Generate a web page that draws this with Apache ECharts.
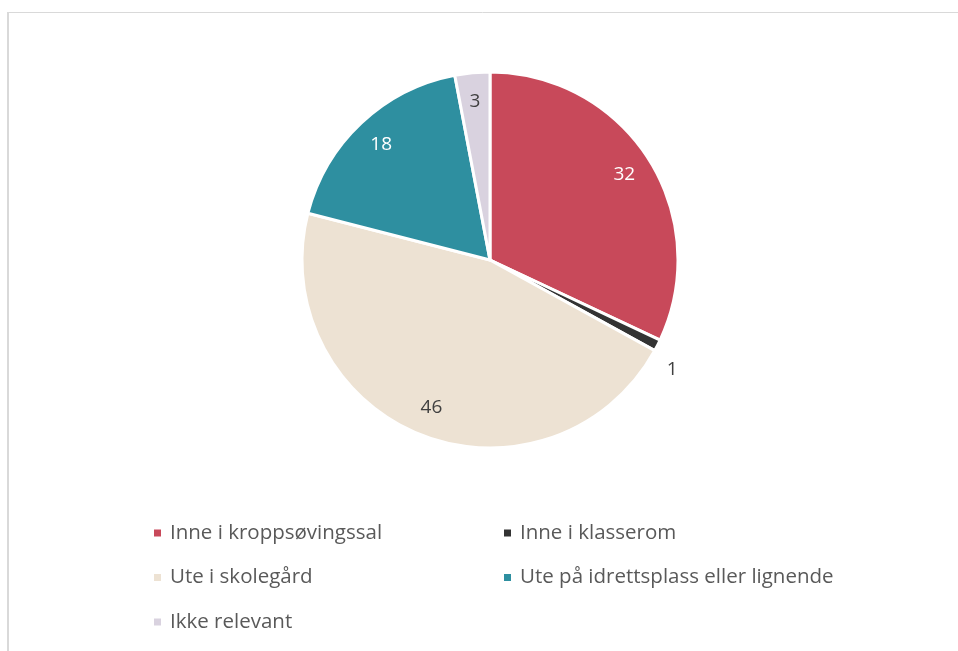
<!DOCTYPE html>
<html>
<head>
<meta charset="utf-8">
<script src="https://cdn.jsdelivr.net/npm/echarts@6/dist/echarts.min.js"></script>
<style>
  html, body { margin: 0; padding: 0; background: #fff; }
  #main { width: 958px; height: 651px; }
</style>
</head>
<body>
<div id="main"></div>
<script>
// data
var categories = ['Inne i kroppsøvingssal', 'Inne i klasserom', 'Ute i skolegård', 'Ute på idrettsplass eller lignende', 'Ikke relevant'];
var values = [32, 1, 46, 18, 3];
var colors = ['#C8495A', '#333333', '#EDE2D3', '#2E8FA0', '#D9D2DF'];
var labelColors = ['#ffffff', '#404040', '#404040', '#ffffff', '#404040'];

var myChart = echarts.init(document.getElementById('main'));

var pieData = categories.map(function (name, i) {
    return { name: name, value: values[i], itemStyle: { color: colors[i] } };
});

// transparent ring only used to place the value labels
var labelData = categories.map(function (name, i) {
    var item = {
        name: name,
        value: values[i],
        itemStyle: { color: 'rgba(0,0,0,0)', borderWidth: 0 },
        label: { color: labelColors[i] }
    };
    if (values[i] < 2) {
        item.label.position = 'outside';
    }
    return item;
});

var legendText = { fontFamily: 'Open Sans', fontSize: 20.5, color: '#595959', lineHeight: 22, padding: [0, 0, 0, 3] };

var option = {
    animation: false,
    graphic: [
        { type: 'line', shape: { x1: 7, y1: 12.5, x2: 958, y2: 12.5 }, style: { stroke: '#d9d9d9', lineWidth: 1 } },
        { type: 'line', shape: { x1: 8, y1: 12, x2: 8, y2: 651 }, style: { stroke: '#d9d9d9', lineWidth: 2 } }
    ],
    legend: [
        {
            data: [categories[0], categories[2], categories[4]],
            orient: 'vertical',
            left: 152,
            top: 522,
            padding: 0,
            itemWidth: 9,
            itemHeight: 9,
            itemGap: 22.5,
            icon: 'rect',
            textStyle: legendText
        },
        {
            data: [categories[1], categories[3]],
            orient: 'vertical',
            left: 502,
            top: 522,
            padding: 0,
            itemWidth: 9,
            itemHeight: 9,
            itemGap: 22.5,
            icon: 'rect',
            textStyle: legendText
        }
    ],
    series: [
        {
            name: 'main',
            type: 'pie',
            center: [490, 260],
            radius: [0, 188],
            startAngle: 90,
            clockwise: true,
            data: pieData,
            itemStyle: { borderColor: '#ffffff', borderWidth: 3 },
            label: { show: false },
            labelLine: { show: false },
            emphasis: { disabled: true }
        },
        {
            name: 'labels',
            type: 'pie',
            center: [490, 260],
            radius: [126, 186],
            startAngle: 90,
            clockwise: true,
            silent: true,
            legendHoverLink: false,
            data: labelData,
            label: {
                show: true,
                position: 'inside',
                formatter: '{c}',
                fontFamily: 'Open Sans',
                fontSize: 19
            },
            labelLine: { show: false, length: 18, length2: 0 },
            labelLayout: function (params) {
                // nudge the small outside label like the original
                if (params.dataIndex === 1) {
                    return { dx: -10, dy: 17 };
                }
                return {};
            },
            emphasis: { disabled: true }
        }
    ]
};

myChart.setOption(option);
</script>
</body>
</html>
